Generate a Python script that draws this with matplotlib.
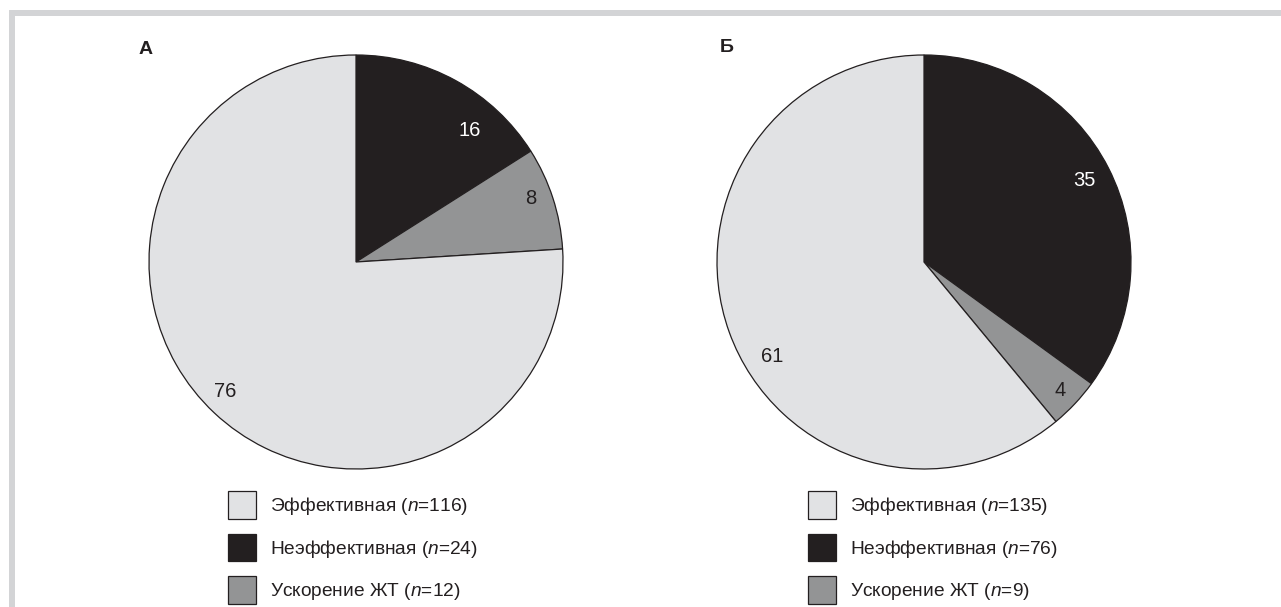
import matplotlib
matplotlib.use("Agg")
import matplotlib.pyplot as plt
from matplotlib.patches import Rectangle
import numpy as np

plt.rcParams['font.family'] = ['Liberation Sans', 'DejaVu Sans']
plt.rcParams['mathtext.fontset'] = 'custom'
plt.rcParams['mathtext.rm'] = 'Liberation Sans'
plt.rcParams['mathtext.it'] = 'Liberation Sans:italic'

# Data
categories = ["Эффективная", "Неэффективная", "Ускорение ЖТ"]
panel_titles = ["А", "Б"]
pct_a = [76, 16, 8]          # percent shares, panel А
pct_b = [61, 35, 4]          # percent shares, panel Б
n_a = [116, 24, 12]          # patient counts, panel А
n_b = [135, 76, 9]           # patient counts, panel Б

colors = ["#e1e2e4", "#231f20", "#939495"]
label_colors = ["#231f20", "#ffffff", "#231f20"]
edge = "#231f20"

# label placement: (radius fraction, angle shift in degrees) per wedge
label_place_a = [(0.89, -2), (0.84, -12), (0.90, 2)]
label_place_b = [(0.865, 12), (0.87, 0), (0.905, 0)]

W, H = 1281, 607
fig = plt.figure(figsize=(W / 100, H / 100), dpi=100)


def px_box(cx, cy, r):
    return [(cx - r) / W, 1 - (cy + r) / H, 2 * r / W, 2 * r / H]


def draw_panel(cx, cy, r, values, counts, places, title, title_xy, legend_xy):
    ax = fig.add_axes(px_box(cx, cy, r))
    # draw order: dark, gray clockwise from top, light fills the rest
    order = [1, 2, 0]
    vals = [values[i] for i in order]
    cols = [colors[i] for i in order]
    wedges, _ = ax.pie(vals, colors=cols, startangle=90, counterclock=False,
                       radius=1, wedgeprops=dict(edgecolor=edge, linewidth=0.9))
    ax.set_xlim(-1.0, 1.0)
    ax.set_ylim(-1.0, 1.0)
    ax.set_aspect('auto')
    ax.axis('off')
    for w, i in zip(wedges, order):
        rf, shift = places[i]
        mid = np.deg2rad((w.theta1 + w.theta2) / 2 + shift)
        ax.text(rf * np.cos(mid), rf * np.sin(mid), str(values[i]),
                ha='center', va='center', fontsize=14.5, color=label_colors[i])
    fig.text(title_xy[0] / W, 1 - title_xy[1] / H, title, fontsize=14,
             fontweight='bold', ha='center', va='center', color='#231f20')
    handles = [wedges[order.index(i)] for i in range(3)]
    labels = [f"{categories[i]} ($n$={counts[i]})" for i in range(3)]
    fig.legend(handles, labels, loc='upper left',
               bbox_to_anchor=(legend_xy[0] / W, 1 - legend_xy[1] / H),
               frameon=False, fontsize=13.8, handlelength=1.45, handleheight=1.85,
               handletextpad=0.75, labelspacing=0.78, borderpad=0,
               borderaxespad=0, labelcolor='#231f20')


draw_panel(356, 262, 207, pct_a, n_a, label_place_a, panel_titles[0], (146, 49), (228, 491))
draw_panel(924, 262, 207, pct_b, n_b, label_place_b, panel_titles[1], (727, 48), (808, 491))

# light grey frame open at the right and bottom
fig.patches.append(Rectangle((11.5 / W, -0.2), 2.0, 1 - 13 / H + 0.2,
                             transform=fig.transFigure, fill=False,
                             edgecolor='#d3d4d6', linewidth=4.3, zorder=-1))

fig.savefig("out.png", dpi=100, facecolor='white')
